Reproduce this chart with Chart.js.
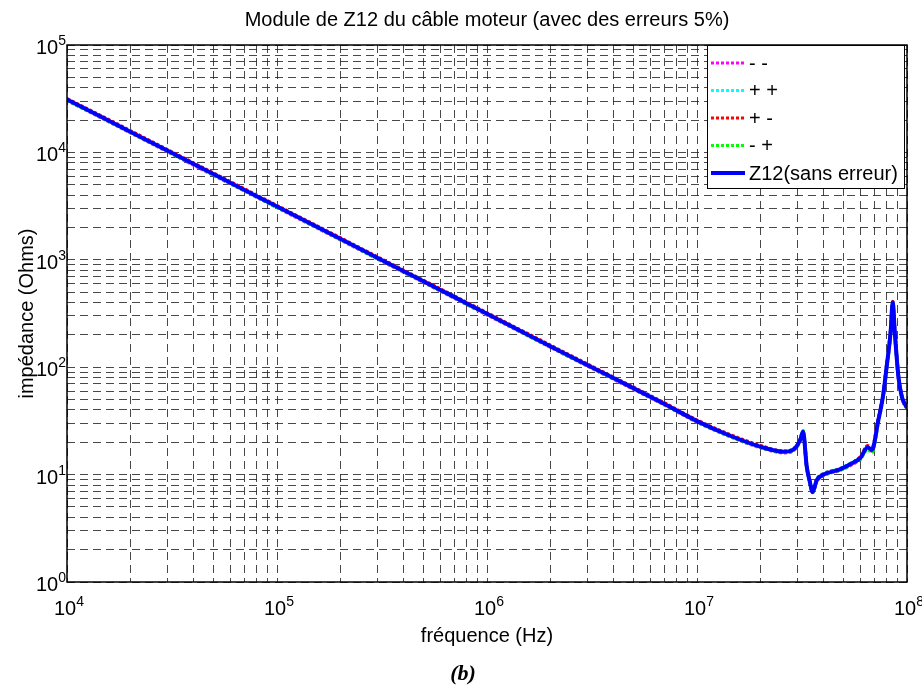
<!DOCTYPE html>
<html>
<head>
<meta charset="utf-8">
<script src="https://cdn.jsdelivr.net/npm/chart.js@4.4.0/dist/chart.umd.min.js"></script>
<style>
  html, body { margin: 0; padding: 0; background: #fff; }
  canvas { display: block; }
</style>
</head>
<body>
<canvas id="chart" width="922" height="687"></canvas>
<script>
// frequencies (Hz)
const freq = [1e4, 1.5e4, 2e4, 3e4, 5e4, 7e4, 1e5, 2e5, 3e5, 5e5, 7e5, 1e6, 2e6, 3e6, 5e6, 7e6,
  1e7, 1.4e7, 2e7, 2.6e7, 2.9e7, 3.1e7, 3.2e7, 3.33e7, 3.45e7, 3.55e7, 3.72e7, 4e7, 4.8e7, 5.5e7,
  6e7, 6.5e7, 6.8e7, 7.3e7, 7.7e7, 8e7, 8.35e7, 8.55e7, 8.75e7, 9.1e7, 9.45e7, 1e8];

// |Z12| in Ohms
const z12 = [31000, 20800, 15600, 10400, 6250, 4470, 3130, 1570, 1045, 628, 449, 314, 157, 105, 63.5, 45.5,
  31.5, 23.5, 18.2, 16.3, 17.3, 21, 25, 11.9, 8.5, 6.9, 8.9, 10, 11.2, 12.8,
  14.3, 18, 16.9, 32, 55, 101, 210, 400, 210, 82, 53, 41.7];
const zMinusMinus = [30500, 20400, 15300, 10200, 6120, 4390, 3070, 1540, 1025, 616, 440, 308, 154, 103, 62.3, 44.6,
  30.9, 23.1, 17.9, 16.0, 17.0, 20.6, 24.5, 11.7, 8.4, 6.8, 8.7, 9.8, 11.0, 12.5,
  14.0, 17.7, 16.6, 31.5, 54, 99, 206, 392, 206, 80, 52, 41];
const zPlusPlus = [31300, 21000, 15800, 10500, 6310, 4520, 3160, 1590, 1055, 634, 454, 317, 159, 106, 64.2, 46,
  31.9, 23.8, 18.5, 16.6, 17.6, 21.3, 25.4, 12.1, 8.6, 7.0, 9.1, 10.2, 11.4, 13.0,
  14.5, 18.3, 17.2, 32.6, 56, 103, 214, 405, 213, 83, 54, 42.3];
const zPlusMinus = [31600, 21200, 15900, 10600, 6380, 4560, 3190, 1600, 1065, 640, 458, 320, 160, 107, 64.8, 46.4,
  32.1, 24, 18.6, 16.5, 17.5, 21.2, 25.2, 12, 8.6, 7.0, 9.0, 10.1, 11.3, 12.9,
  14.6, 18.6, 17.4, 33, 56, 104, 216, 410, 216, 84, 54, 42.5];
const zMinusPlus = [30700, 20500, 15400, 10300, 6170, 4410, 3090, 1550, 1030, 620, 443, 310, 155, 103.5, 62.8, 45,
  31.1, 23.2, 18.0, 16.1, 17.1, 20.8, 25.6, 11.8, 8.4, 6.8, 8.8, 9.9, 11.0, 12.6,
  14.0, 17.2, 16.0, 31, 54, 100, 205, 395, 205, 81, 52.5, 41.2];

const xDecades = [4, 5, 6, 7, 8];
const yDecades = [0, 1, 2, 3, 4, 5];
const legendLabels = ['- -', '+ +', '+ -', '- +', 'Z12(sans erreur)'];
const legendColors = ['#ff00ff', '#00ffff', '#ff0000', '#00ff00', '#0000ff'];

const FONT = '"Liberation Sans", Arial, sans-serif';

// 1..9 x 10^n grid positions, like matlab's minor grid
function gridValues(decades) {
  const out = [];
  for (let i = 0; i < decades.length - 1; i++) {
    for (let m = 1; m < 10; m++) out.push(m * Math.pow(10, decades[i]));
  }
  out.push(Math.pow(10, decades[decades.length - 1]));
  return out;
}
const xGrid = gridValues(xDecades);
const yGrid = gridValues(yDecades);

function pts(vals) {
  return freq.map((f, i) => ({ x: f, y: vals[i] }));
}

function dotted(label, vals, color, order) {
  return {
    label: label,
    data: pts(vals),
    borderColor: color,
    borderWidth: 3.5,
    borderDash: [3, 2],
    pointRadius: 0,
    cubicInterpolationMode: 'monotone',
    order: order,
  };
}

function drawPow(ctx, x, y, base, exp, align) {
  ctx.font = '20px ' + FONT;
  const bw = ctx.measureText(base).width;
  ctx.font = '14px ' + FONT;
  const ew = ctx.measureText(exp).width;
  let left = x;
  if (align === 'center') left = x - (bw + ew) / 2;
  if (align === 'right') left = x - bw - ew;
  ctx.textAlign = 'left';
  ctx.textBaseline = 'alphabetic';
  ctx.font = '20px ' + FONT;
  ctx.fillText(base, left, y);
  ctx.font = '14px ' + FONT;
  ctx.fillText(exp, left + bw, y - 9);
}

const matlabDecor = {
  id: 'matlabDecor',
  afterDraw(chart) {
    const { ctx, chartArea: a, scales } = chart;
    ctx.save();
    ctx.fillStyle = '#000';
    ctx.strokeStyle = '#000';

    // axes box
    ctx.lineWidth = 1.5;
    ctx.setLineDash([]);
    ctx.strokeRect(a.left, a.top, a.right - a.left, a.bottom - a.top);

    // tick labels
    xDecades.forEach(d => {
      drawPow(ctx, scales.x.getPixelForValue(Math.pow(10, d)) + 2, a.bottom + 33, '10', String(d), 'center');
    });
    yDecades.forEach(d => {
      drawPow(ctx, a.left - 1, scales.y.getPixelForValue(Math.pow(10, d)) + 9, '10', String(d), 'right');
    });

    // titles
    ctx.textAlign = 'center';
    ctx.textBaseline = 'alphabetic';
    ctx.font = '20px ' + FONT;
    ctx.fillText('Module de Z12 du câble moteur (avec des erreurs 5%)', (a.left + a.right) / 2, 26);
    ctx.fillText('fréquence (Hz)', (a.left + a.right) / 2, a.bottom + 60);
    ctx.save();
    ctx.translate(33, (a.top + a.bottom) / 2);
    ctx.rotate(-Math.PI / 2);
    ctx.fillText('impédance (Ohms)', 0, 0);
    ctx.restore();
    ctx.font = 'italic bold 22px "Liberation Serif", serif';
    ctx.fillText('(b)', (a.left + a.right) / 2 - 24, a.bottom + 98);

    // legend
    const lx = 707, ly = a.top, lw = 197, lh = 143;
    ctx.fillStyle = '#fff';
    ctx.fillRect(lx, ly, lw, lh);
    ctx.lineWidth = 1;
    ctx.strokeStyle = '#000';
    ctx.strokeRect(lx + 0.5, ly + 0.5, lw, lh);
    legendLabels.forEach((lab, i) => {
      const yy = ly + 18 + i * 27.5;
      ctx.strokeStyle = legendColors[i];
      ctx.lineWidth = i === 4 ? 4 : 3;
      ctx.setLineDash(i === 4 ? [] : [3, 2]);
      ctx.beginPath();
      ctx.moveTo(lx + 4, yy);
      ctx.lineTo(lx + 38, yy);
      ctx.stroke();
      ctx.setLineDash([]);
      ctx.fillStyle = '#000';
      ctx.font = '20px ' + FONT;
      ctx.textAlign = 'left';
      ctx.textBaseline = 'middle';
      ctx.fillText(lab, lx + 42, yy + 1);
    });
    ctx.restore();
  }
};

const gridStyle = { color: 'rgba(40,40,40,0.85)', lineWidth: 1, drawTicks: false };
const borderStyle = { display: false, dash: [8, 5] };

new Chart(document.getElementById('chart').getContext('2d'), {
  type: 'line',
  data: {
    datasets: [
      {
        label: 'Z12(sans erreur)',
        data: pts(z12),
        borderColor: '#0000ff',
        borderWidth: 4,
        pointRadius: 0,
        cubicInterpolationMode: 'monotone',
        order: 0,
      },
      dotted('- -', zMinusMinus, '#ff00ff', 4),
      dotted('+ +', zPlusPlus, '#00ffff', 3),
      dotted('+ -', zPlusMinus, '#ff0000', 2),
      dotted('- +', zMinusPlus, '#00ff00', 1),
    ]
  },
  options: {
    responsive: false,
    animation: false,
    devicePixelRatio: 1,
    layout: { padding: { left: 67, right: 15, top: 45, bottom: 105 } },
    plugins: {
      legend: { display: false },
      tooltip: { enabled: false },
      title: { display: false }
    },
    scales: {
      x: {
        type: 'logarithmic',
        min: 1e4,
        max: 1e8,
        afterBuildTicks: s => { s.ticks = xGrid.map(v => ({ value: v })); },
        ticks: { display: false },
        grid: gridStyle,
        border: borderStyle
      },
      y: {
        type: 'logarithmic',
        min: 1,
        max: 1e5,
        afterBuildTicks: s => { s.ticks = yGrid.map(v => ({ value: v })); },
        ticks: { display: false },
        grid: gridStyle,
        border: borderStyle
      }
    }
  },
  plugins: [matlabDecor]
});
</script>
</body>
</html>
